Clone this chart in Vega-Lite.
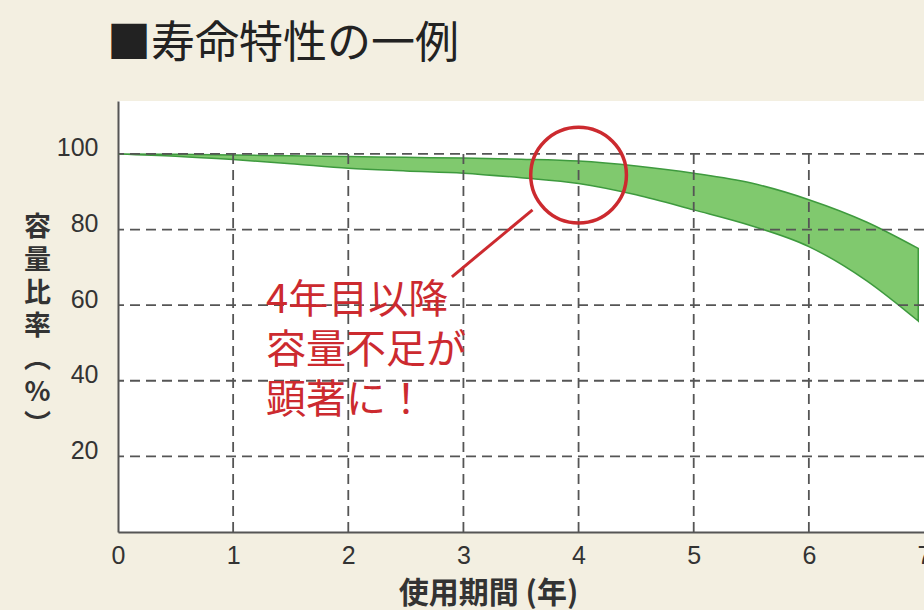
{
  "$schema": "https://vega.github.io/schema/vega-lite/v6.json",
  "width": 806,
  "height": 431,
  "autosize": {"type": "none"},
  "padding": {"left": 118, "top": 101, "right": 0, "bottom": 78},
  "background": "#f3efe1",
  "title": {
    "text": "■寿命特性の一例",
    "anchor": "start",
    "frame": "group",
    "dx": -11,
    "offset": 12,
    "baseline": "middle",
    "font": "Noto Sans CJK JP",
    "fontSize": 44,
    "fontWeight": "normal",
    "color": "#222222"
  },
  "config": {
    "view": {"fill": "#ffffff", "stroke": null},
    "axis": {
      "grid": false,
      "ticks": false,
      "domainColor": "#555555",
      "domainWidth": 2,
      "labelFont": "Liberation Sans",
      "labelFontSize": 25,
      "labelColor": "#333333",
      "titleFont": "Noto Sans CJK JP",
      "titleFontWeight": "bold",
      "titleColor": "#333333"
    }
  },
  "datasets": {
    "band": [
      {"t": 0, "hi": 100, "lo": 100},
      {"t": 0.5, "hi": 99.9, "lo": 99.4},
      {"t": 1, "hi": 99.7, "lo": 98.5},
      {"t": 1.5, "hi": 99.5, "lo": 97.4},
      {"t": 2, "hi": 99.3, "lo": 96.2},
      {"t": 2.5, "hi": 99.1, "lo": 95.5},
      {"t": 3, "hi": 98.9, "lo": 94.9},
      {"t": 3.5, "hi": 98.6, "lo": 93.7},
      {"t": 4, "hi": 98.1, "lo": 92.2},
      {"t": 4.5, "hi": 96.8, "lo": 89.2},
      {"t": 5, "hi": 94.9, "lo": 85.2},
      {"t": 5.5, "hi": 92.3, "lo": 81},
      {"t": 6, "hi": 87.9, "lo": 75.5},
      {"t": 6.5, "hi": 82, "lo": 66.5},
      {"t": 6.95, "hi": 75, "lo": 55.8}
    ],
    "gridY": [{"v": 20}, {"v": 40}, {"v": 60}, {"v": 80}, {"v": 100}],
    "gridX": [{"v": 1}, {"v": 2}, {"v": 3}, {"v": 4}, {"v": 5}, {"v": 6}],
    "connector": [{"x1": 3.6, "y1": 85.2, "x2": 2.9, "y2": 67.5}],
    "circle": [{"x": 4, "y": 94.4}],
    "note": [{"x": 1.285, "y": 61.2, "label": "4年目以降\n容量不足が\n顕著に！"}]
  },
  "layer": [
    {
      "data": {"name": "band"},
      "mark": {"type": "area", "fill": "#80c96e", "stroke": "#3e9a3e", "strokeWidth": 1.5, "interpolate": "monotone"},
      "encoding": {
        "x": {
          "field": "t", "type": "quantitative",
          "scale": {"domain": [0, 7], "nice": false, "zero": false},
          "axis": {
            "values": [0, 1, 2, 3, 4, 5, 6, 7],
            "format": "d",
            "labelBaseline": "top",
            "labelPadding": 11,
            "labelFlush": false,
            "labelOverlap": false,
            "title": "使用期間 (年)",
            "titleFontSize": 30,
            "titleX": 370,
            "titleY": 61,
            "titleBaseline": "middle",
            "titleAlign": "center"
          }
        },
        "y": {
          "field": "hi", "type": "quantitative",
          "scale": {"domain": [0, 114], "nice": false, "zero": false},
          "axis": {
            "values": [20, 40, 60, 80, 100],
            "labelBaseline": "alphabetic",
            "labelAlign": "right",
            "labelOffset": 2,
            "labelPadding": 20,
            "title": ["容", "量", "比", "率", "︵", "%", "︶"],
            "titleAngle": 0,
            "titleFontSize": 27,
            "titleLineHeight": 33,
            "titleX": -81,
            "titleY": 113,
            "titleBaseline": "top",
            "titleAlign": "center"
          }
        },
        "y2": {"field": "lo"}
      }
    },
    {
      "data": {"name": "gridY"},
      "mark": {"type": "rule", "stroke": "#555555", "strokeWidth": 1.8, "strokeDash": [10, 6]},
      "encoding": {
        "y": {"field": "v", "type": "quantitative"}
      }
    },
    {
      "data": {"name": "gridX"},
      "mark": {"type": "rule", "stroke": "#555555", "strokeWidth": 1.8, "strokeDash": [10, 6]},
      "encoding": {
        "x": {"field": "v", "type": "quantitative"},
        "y": {"datum": 0, "type": "quantitative"},
        "y2": {"datum": 100}
      }
    },
    {
      "data": {"name": "connector"},
      "mark": {"type": "rule", "stroke": "#cc2a2f", "strokeWidth": 3},
      "encoding": {
        "x": {"field": "x1", "type": "quantitative"},
        "y": {"field": "y1", "type": "quantitative"},
        "x2": {"field": "x2"},
        "y2": {"field": "y2"}
      }
    },
    {
      "data": {"name": "circle"},
      "mark": {"type": "point", "shape": "circle", "filled": false, "size": 9161, "stroke": "#cc2a2f", "strokeWidth": 3.5, "opacity": 1},
      "encoding": {
        "x": {"field": "x", "type": "quantitative"},
        "y": {"field": "y", "type": "quantitative"}
      }
    },
    {
      "data": {"name": "note"},
      "mark": {"type": "text", "align": "left", "baseline": "middle", "lineBreak": "\n", "lineHeight": 50, "font": "Noto Sans CJK JP", "fontSize": 40, "fontWeight": "normal", "fill": "#cc2a2f"},
      "encoding": {
        "x": {"field": "x", "type": "quantitative"},
        "y": {"field": "y", "type": "quantitative"},
        "text": {"field": "label"}
      }
    }
  ]
}
